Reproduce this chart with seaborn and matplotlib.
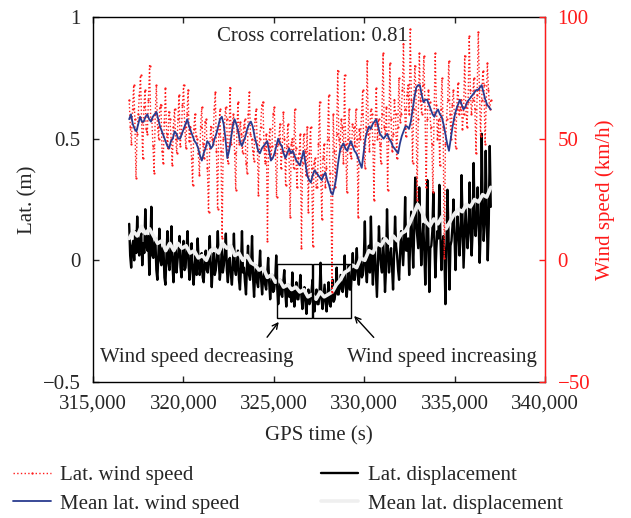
import numpy as np
import pandas as pd
import matplotlib
matplotlib.use("Agg")
import matplotlib.pyplot as plt
import matplotlib.patches as patches
from matplotlib.ticker import FixedLocator
import seaborn as sns

sns.set_style("ticks")
plt.rcParams["font.family"] = ["Liberation Serif", "DejaVu Serif"]
plt.rcParams["axes.unicode_minus"] = True

# ---------------- data ----------------
t_start, t_end = 317000, 337000

wind_speed = [
    66, 55, 48, 62, 72, 58, 34, 52, 60, 68, 76, 57, 42, 63, 70, 54, 52, 66, 80, 58,
    58, 47, 36, 60, 72, 55, 50, 63, 64, 45, 40, 57, 71, 52, 46, 61, 58, 50, 39, 55,
    62, 50, 44, 58, 68, 47, 52, 64, 72, 55, 46, 60, 70, 49, 55, 42, 31, 54, 60, 51,
    50, 44, 35, 55, 63, 48, 42, 57, 58, 38, 20, 46, 55, 50, 48, 62, 69, 45, 21, 52,
    62, 45, 9, 50, 55, 63, 58, 40, 47, 71, 48, 56, 60, 44, 29, 53, 65, 48, 57, 52,
    44, 55, 58, 40, 36, 60, 69, 52, 50, 45, 41, 58, 62, 48, 27, 50, 55, 64, 65, 46,
    40, 52, 8, 47, 54, 42, 47, 60, 63, 44, 26, 48, 50, 56, 38, 45, 61, 50, 31, 47,
    56, 44, 18, 48, 50, 38, 62, 46, 30, 42, 44, 52, 5, 40, 52, 45, 35, 55, 20, 44,
    55, 38, 6, 40, 42, 30, 30, 48, 65, 35, 17, 42, 48, 30, 38, 50, 68, 36, 28, -13,
    60, 45, 30, 52, 78, 50, 45, 58, 55, 40, 76, 48, 28, 50, 62, 44, 42, 56, 55, 47,
    62, 50, 18, 54, 50, 60, 70, 45, 38, 55, 82, 52, 45, 62, 60, 48, 25, 56, 71, 50,
    58, 48, 40, 60, 85, 55, 52, 63, 29, 50, 81, 58, 45, 52, 66, 60, 42, 55, 75, 57,
    60, 70, 89, 62, 51, 68, 72, 60, 95, 66, 40, 62, 80, 70, 25, 58, 85, 66, 60, 72,
    84, 62, 30, 58, 70, 65, 55, 48, 28, 60, 85, 64, 50, 58, 39, 62, 75, 55, 1, 48,
    58, 66, 82, 60, 50, 64, 70, 58, 46, 62, 73, 60, 62, 66, 54, 60, 84, 63, 55, 65,
    92, 70, 60, 66, 75, 62, 44, 68, 94, 70, 51, 66, 78, 72, 48, 64, 81, 70, 62, 66,
]

mean_wind_speed = [
    58, 60, 56, 54, 53, 56, 59, 57, 57, 59, 60, 58, 57, 59, 60, 61, 58, 55, 53, 51,
    49, 47, 46, 49, 50, 53, 52, 50, 50, 52, 54, 56, 58, 55, 53, 51, 49, 48, 46, 43,
    41, 44, 46, 49, 48, 46, 47, 50, 52, 55, 58, 59, 56, 50, 42, 45, 50, 55, 58, 56,
    53, 49, 47, 49, 51, 54, 56, 57, 55, 51, 48, 45, 44, 46, 47, 48, 49, 45, 41, 42,
    44, 47, 50, 48, 47, 44, 42, 44, 46, 44, 45, 43, 41, 40, 39, 42, 45, 40, 35, 33,
    32, 35, 37, 36, 35, 34, 33, 35, 36, 33, 31, 28, 27, 30, 34, 40, 45, 47, 48, 46,
    45, 47, 49, 47, 45, 44, 42, 40, 38, 44, 50, 53, 55, 54, 56, 57, 58, 55, 52, 51,
    50, 51, 52, 50, 49, 47, 46, 45, 44, 48, 51, 53, 55, 55, 54, 57, 62, 67, 71, 72,
    72, 68, 65, 66, 66, 64, 62, 60, 59, 61, 62, 60, 59, 56, 52, 48, 45, 50, 55, 59,
    62, 64, 66, 64, 62, 63, 65, 66, 67, 68, 69, 70, 70, 71, 72, 69, 66, 64, 63, 62,
]

lat_displacement = [
    0.15, 0.02, -0.03, 0.06, 0.08, 0.0, 0.12, 0.03, 0.18, 0.05, 0.02, 0.09, 0.11, -0.02, 0.07, 0.03, 0.21, 0.06, 0.04, 0.10,
    -0.06, 0.05, 0.22, 0.02, 0.01, 0.07, 0.09, -0.04, -0.08, 0.03, 0.13, 0.0, -0.02, 0.05, 0.06, -0.07, -0.10, 0.02, 0.12, -0.01,
    -0.04, 0.03, 0.14, -0.02, -0.09, 0.01, 0.05, -0.05, 0.0, 0.04, 0.10, -0.03, -0.07, 0.02, 0.08, -0.04, -0.03, 0.05, 0.12, -0.02,
    -0.08, 0.0, 0.07, -0.05, -0.10, -0.02, 0.02, -0.06, 0.09, -0.01, -0.06, -0.03, 0.03, -0.07, -0.09, 0.0, 0.04, -0.04, -0.05, 0.01,
    0.10, -0.03, -0.11, -0.02, 0.03, -0.06, -0.04, 0.02, 0.12, -0.01, -0.08, -0.03, 0.05, -0.05, -0.02, 0.03, 0.11, -0.04, -0.09, 0.0,
    0.01, -0.06, -0.10, -0.02, 0.11, -0.04, -0.06, -0.01, 0.04, -0.08, -0.12, -0.03, 0.12, -0.05, -0.03, -0.09, -0.14, -0.02, 0.06, -0.06,
    -0.08, -0.03, 0.10, -0.07, -0.15, -0.06, -0.02, -0.09, -0.11, -0.04, 0.04, -0.08, -0.14, -0.07, -0.05, -0.10, -0.12, -0.06, 0.01, -0.09,
    -0.16, -0.10, -0.06, -0.13, -0.12, -0.08, 0.02, -0.11, -0.18, -0.12, -0.08, -0.14, -0.15, -0.09, -0.04, -0.13, -0.19, -0.12, -0.10, -0.15,
    -0.13, -0.17, -0.05, -0.14, -0.19, -0.13, -0.09, -0.16, -0.16, -0.12, -0.06, -0.15, -0.20, -0.14, -0.11, -0.17, -0.22, -0.15, -0.12, -0.18,
    -0.17, -0.13, -0.08, -0.16, -0.21, -0.15, -0.12, -0.18, -0.18, -0.14, -0.01, -0.16, -0.20, -0.15, -0.10, -0.17, -0.21, -0.14, -0.09, -0.18,
    -0.19, -0.14, -0.08, -0.17, -0.16, -0.12, -0.03, -0.14, -0.14, -0.10, -0.06, -0.12, -0.13, -0.08, 0.02, -0.11, -0.15, -0.09, -0.02, -0.12,
    -0.12, -0.05, 0.03, -0.08, -0.08, -0.02, 0.05, -0.06, -0.10, -0.03, 0.0, -0.07, -0.06, 0.01, 0.16, -0.04, -0.09, 0.0, 0.06, -0.05,
    0.18, 0.0, -0.10, 0.02, 0.04, -0.06, -0.15, -0.02, 0.14, 0.03, -0.02, -0.05, 0.09, 0.01, -0.13, -0.04, 0.21, 0.04, -0.05, 0.02,
    0.05, -0.03, -0.12, 0.02, 0.18, 0.06, 0.02, -0.04, -0.08, 0.03, 0.12, 0.05, -0.02, 0.08, 0.26, 0.04, 0.04, 0.09, -0.06, 0.07,
    0.20, 0.08, -0.03, 0.12, 0.34, 0.15, 0.10, 0.05, 0.30, 0.12, -0.02, 0.08, 0.15, 0.04, -0.10, 0.06, 0.33, 0.10, -0.13, 0.05,
    0.06, 0.12, 0.28, 0.08, -0.07, 0.05, 0.12, 0.09, 0.31, 0.10, -0.04, 0.06, 0.10, 0.02, -0.18, 0.05, 0.29, 0.12, -0.12, 0.06,
    0.08, 0.14, 0.25, 0.10, -0.04, 0.08, 0.18, 0.12, 0.02, 0.10, 0.35, 0.15, -0.03, 0.09, 0.21, 0.13, 0.05, 0.12, 0.32, 0.14,
    0.02, 0.12, 0.40, 0.15, 0.10, 0.18, 0.30, 0.14, -0.01, 0.12, 0.52, 0.20, 0.08, 0.16, 0.45, 0.18, 0.0, 0.15, 0.47, 0.22,
]

mean_lat_displacement = [
    0.09, 0.12, 0.10, 0.14, 0.11, 0.13, 0.10, 0.07, 0.08, 0.04,
    0.07, 0.04, 0.07, 0.05, 0.06, 0.03, 0.04, 0.01, 0.02, 0.0,
    0.04, 0.05, 0.03, 0.07, 0.05, 0.06, 0.02, 0.03, 0.0, 0.02,
    -0.01, -0.02, -0.04, -0.03, -0.07, -0.06, -0.09, -0.08, -0.11, -0.10,
    -0.12, -0.11, -0.13, -0.12, -0.15, -0.14, -0.16, -0.13, -0.15, -0.14,
    -0.13, -0.10, -0.08, -0.05, -0.04, -0.02, -0.03, 0.01, 0.0, 0.04,
    0.03, 0.07, 0.06, 0.09, 0.07, 0.10, 0.08, 0.11, 0.12, 0.15,
    0.19, 0.23, 0.20, 0.16, 0.14, 0.17, 0.15, 0.18, 0.13, 0.16,
    0.19, 0.21, 0.20, 0.23, 0.22, 0.25, 0.24, 0.27, 0.26, 0.30,
]

x_ticks = [315000, 320000, 325000, 330000, 335000, 340000]
x_tick_labels = ["315,000", "320,000", "325,000", "330,000", "335,000", "340,000"]
lat_ticks = [-0.5, 0, 0.5, 1]
lat_tick_labels = ["\u22120.5", "0", "0.5", "1"]
wind_ticks = [-50, 0, 50, 100]
wind_tick_labels = ["\u221250", "0", "50", "100"]

# boxes (time start, time end) and y range
box_decreasing = (325150, 327130)
box_increasing = (327190, 329280)
box_y = (-0.237, -0.016)

df_wind = pd.DataFrame({"t": np.linspace(t_start, t_end, len(wind_speed)), "v": wind_speed})
df_mwind = pd.DataFrame({"t": np.linspace(t_start, t_end, len(mean_wind_speed)), "v": mean_wind_speed})
df_disp = pd.DataFrame({"t": np.linspace(t_start, t_end, len(lat_displacement)), "v": lat_displacement})
df_mdisp = pd.DataFrame({"t": np.linspace(t_start, t_end, len(mean_lat_displacement)), "v": mean_lat_displacement})

FS = 15
RED = "#ff1a1a"
BLUE = "#2a3b8f"

fig = plt.figure(figsize=(6.31, 5.18), dpi=100)
ax = fig.add_axes([0.1474, 0.2625, 0.7163, 0.7047])
ax2 = ax.twinx()

sns.lineplot(data=df_disp, x="t", y="v", ax=ax, color="black", lw=1.7,
             label="Lat. displacement", legend=False)
sns.lineplot(data=df_mdisp, x="t", y="v", ax=ax, color="#efefef", lw=2.6,
             label="Mean lat. displacement", legend=False)

sns.lineplot(data=df_wind, x="t", y="v", ax=ax2, color=RED, lw=1.0, linestyle=":",
             marker=".", markersize=3.2, markeredgewidth=0,
             label="Lat. wind speed", legend=False)
sns.lineplot(data=df_mwind, x="t", y="v", ax=ax2, color=BLUE, lw=1.3,
             label="Mean lat. wind speed", legend=False)

ax.set_xlim(315000, 340000)
ax.set_ylim(-0.5, 1)
ax2.set_ylim(-50, 100)

ax.xaxis.set_major_locator(FixedLocator(x_ticks))
ax.set_xticklabels(x_tick_labels)
ax.yaxis.set_major_locator(FixedLocator(lat_ticks))
ax.set_yticklabels(lat_tick_labels)
ax2.yaxis.set_major_locator(FixedLocator(wind_ticks))
ax2.set_yticklabels(wind_tick_labels)

ax.tick_params(axis="x", direction="in", labelsize=FS, length=4, width=1,
               top=True, pad=9)
ax.tick_params(axis="y", direction="in", labelsize=FS, length=4, width=1,
               right=False, pad=9)
ax2.tick_params(axis="y", direction="in", labelsize=FS, length=4, width=1,
                colors=RED, pad=9)
for side in ["left", "top", "bottom"]:
    ax.spines[side].set_linewidth(1.0)
    ax.spines[side].set_color("black")
ax2.spines["right"].set_color(RED)
ax2.spines["right"].set_linewidth(1.0)
ax2.spines["left"].set_visible(False)
ax2.spines["top"].set_visible(False)
ax2.spines["bottom"].set_visible(False)

ax.set_xlabel("GPS time (s)", fontsize=FS, labelpad=9)
ax.set_ylabel("Lat. (m)", fontsize=FS, labelpad=4)
ax2.set_ylabel("Wind speed (km/h)", fontsize=FS, color=RED, labelpad=4)

# boxes
for (t0, t1) in (box_decreasing, box_increasing):
    ax.add_patch(patches.Rectangle((t0, box_y[0]), t1 - t0, box_y[1] - box_y[0],
                                   fill=False, edgecolor="black", lw=1.0, zorder=5))

ax2.text(327140, 92.0, "Cross correlation: 0.81", ha="center", va="center", fontsize=FS)

ax.annotate("", xy=(325365, -0.244), xytext=(324534, -0.325),
            arrowprops=dict(arrowstyle="->", color="black", lw=1.0))
ax.annotate("", xy=(329340, -0.22), xytext=(330631, -0.325),
            arrowprops=dict(arrowstyle="->", color="black", lw=1.0))
ax.text(320737, -0.398, "Wind speed decreasing", ha="center", va="center", fontsize=FS)
ax.text(334290, -0.398, "Wind speed increasing", ha="center", va="center", fontsize=FS)

h1, l1 = ax2.get_legend_handles_labels()
h0, l0 = ax.get_legend_handles_labels()
fig.legend(h1 + h0, l1 + l0, loc="lower left", bbox_to_anchor=(-0.009, -0.028),
           ncol=2, frameon=False, fontsize=FS, handlelength=1.8,
           handletextpad=0.45, columnspacing=3.9, labelspacing=0.45)

fig.savefig("out.png", dpi=100)
